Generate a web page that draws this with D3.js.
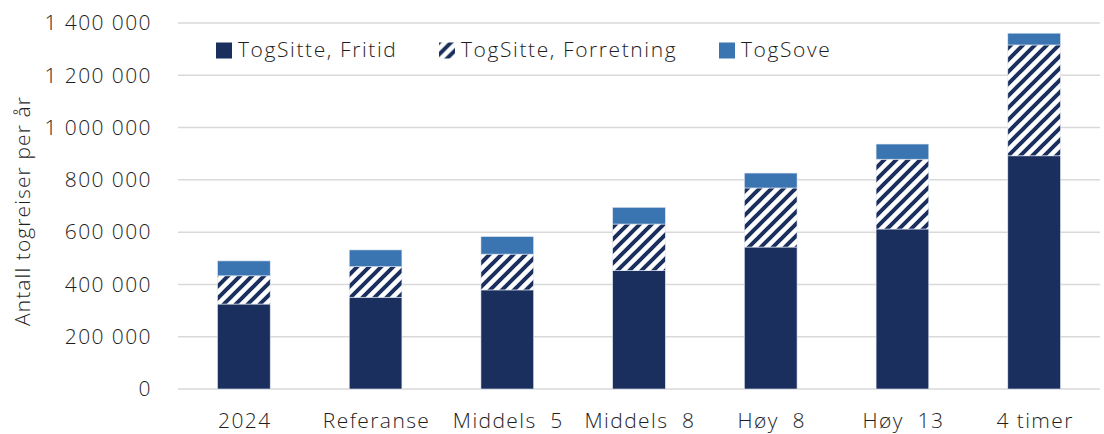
<!DOCTYPE html>
<html lang="no">
<head>
<meta charset="utf-8" />
<title>Antall togreiser per år</title>
<script src="https://d3js.org/d3.v7.min.js"></script>
<style>
  body { margin: 0; background: #fff; }
  svg text { font-family: "Open Sans", sans-serif; font-weight: 300; fill: #1e1e1e; font-size: 21px; letter-spacing: 1.4px; }
</style>
</head>
<body>
<svg id="chart" width="1104" height="434"></svg>
<script>
// kategorier og serier (lest av fra figuren)
const categories = ["2024", "Referanse", "Middels  5", "Middels  8", "Høy  8", "Høy  13", "4 timer"];
const fritid      = [325000, 351000, 379000, 453000, 543000, 612000, 892000];
const forretning  = [108000, 117000, 137000, 178000, 226000, 267000, 424000];
const sove        = [57000, 64000, 67000, 64000, 57000, 58000, 45000];
const seriesNames = ["TogSitte, Fritid", "TogSitte, Forretning", "TogSove"];
const yTicks = [0, 200000, 400000, 600000, 800000, 1000000, 1200000, 1400000];

const svg = d3.select("#chart");
const margin = { left: 178, right: 4, top: 23, bottom: 45 };
const W = 1104, H = 434;

const x = d3.scaleBand().domain(categories)
  .range([margin.left, W - margin.right]).paddingInner(0.6).paddingOuter(0.3);
const y = d3.scaleLinear().domain([0, 1400000]).range([H - margin.bottom, margin.top]);

// skravur for forretning
const defs = svg.append("defs");
const pat = defs.append("pattern").attr("id", "hatch")
  .attr("patternUnits", "userSpaceOnUse").attr("width", 12).attr("height", 12);
pat.append("rect").attr("width", 12).attr("height", 12).attr("fill", "#fff");
pat.append("path").attr("d", "M-3,3 l6,-6 M0,12 l12,-12 M9,15 l6,-6")
  .attr("stroke", "#1a2f5e").attr("stroke-width", 4);

const colors = ["#1a2f5e", "url(#hatch)", "#3a74b1"];

// rutenett
svg.append("g").selectAll("line").data(yTicks).join("line")
  .attr("x1", margin.left).attr("x2", W - margin.right)
  .attr("y1", d => y(d)).attr("y2", d => y(d))
  .attr("stroke", "#d9d9d9").attr("stroke-width", 1.5);

// y-akse
const fmt = d => d3.format(",")(d).replace(/,/g, " ");
svg.append("g").selectAll("text").data(yTicks).join("text")
  .attr("x", 152).attr("y", d => y(d)).attr("dy", "0.35em")
  .attr("text-anchor", "end").text(fmt);

svg.append("text")
  .attr("transform", "translate(30,211) rotate(-90)")
  .attr("text-anchor", "middle").style("letter-spacing", "1.1px")
  .text("Antall togreiser per år");

// stablede søyler
const rows = categories.map((c, i) => ({ cat: c, fritid: fritid[i], forretning: forretning[i], sove: sove[i] }));
const stack = d3.stack().keys(["fritid", "forretning", "sove"])(rows);

svg.append("g").selectAll("g").data(stack).join("g")
  .attr("fill", (d, i) => colors[i])
  .selectAll("rect").data(d => d).join("rect")
  .attr("x", d => x(d.data.cat))
  .attr("width", x.bandwidth())
  .attr("y", d => y(d[1]))
  .attr("height", d => y(d[0]) - y(d[1]))
  .attr("stroke", "#dfe6f0").attr("stroke-width", 0.6);

// x-etiketter
svg.append("g").selectAll("text").data(categories).join("text")
  .attr("x", d => x(d) + x.bandwidth() / 2 + 1).attr("y", 428)
  .attr("text-anchor", "middle")
  .attr("xml:space", "preserve").style("white-space", "pre")
  .text(d => d);

// forklaring
const legendX = [216, 439, 719];
const leg = svg.append("g").selectAll("g").data(seriesNames).join("g")
  .attr("transform", (d, i) => `translate(${legendX[i]},42.5)`);
leg.append("rect").attr("width", 16).attr("height", 16)
  .attr("fill", (d, i) => colors[i]);
leg.append("text").attr("x", 22).attr("y", 14.2)
  .style("letter-spacing", "1.6px").text(d => d);
</script>
</body>
</html>
